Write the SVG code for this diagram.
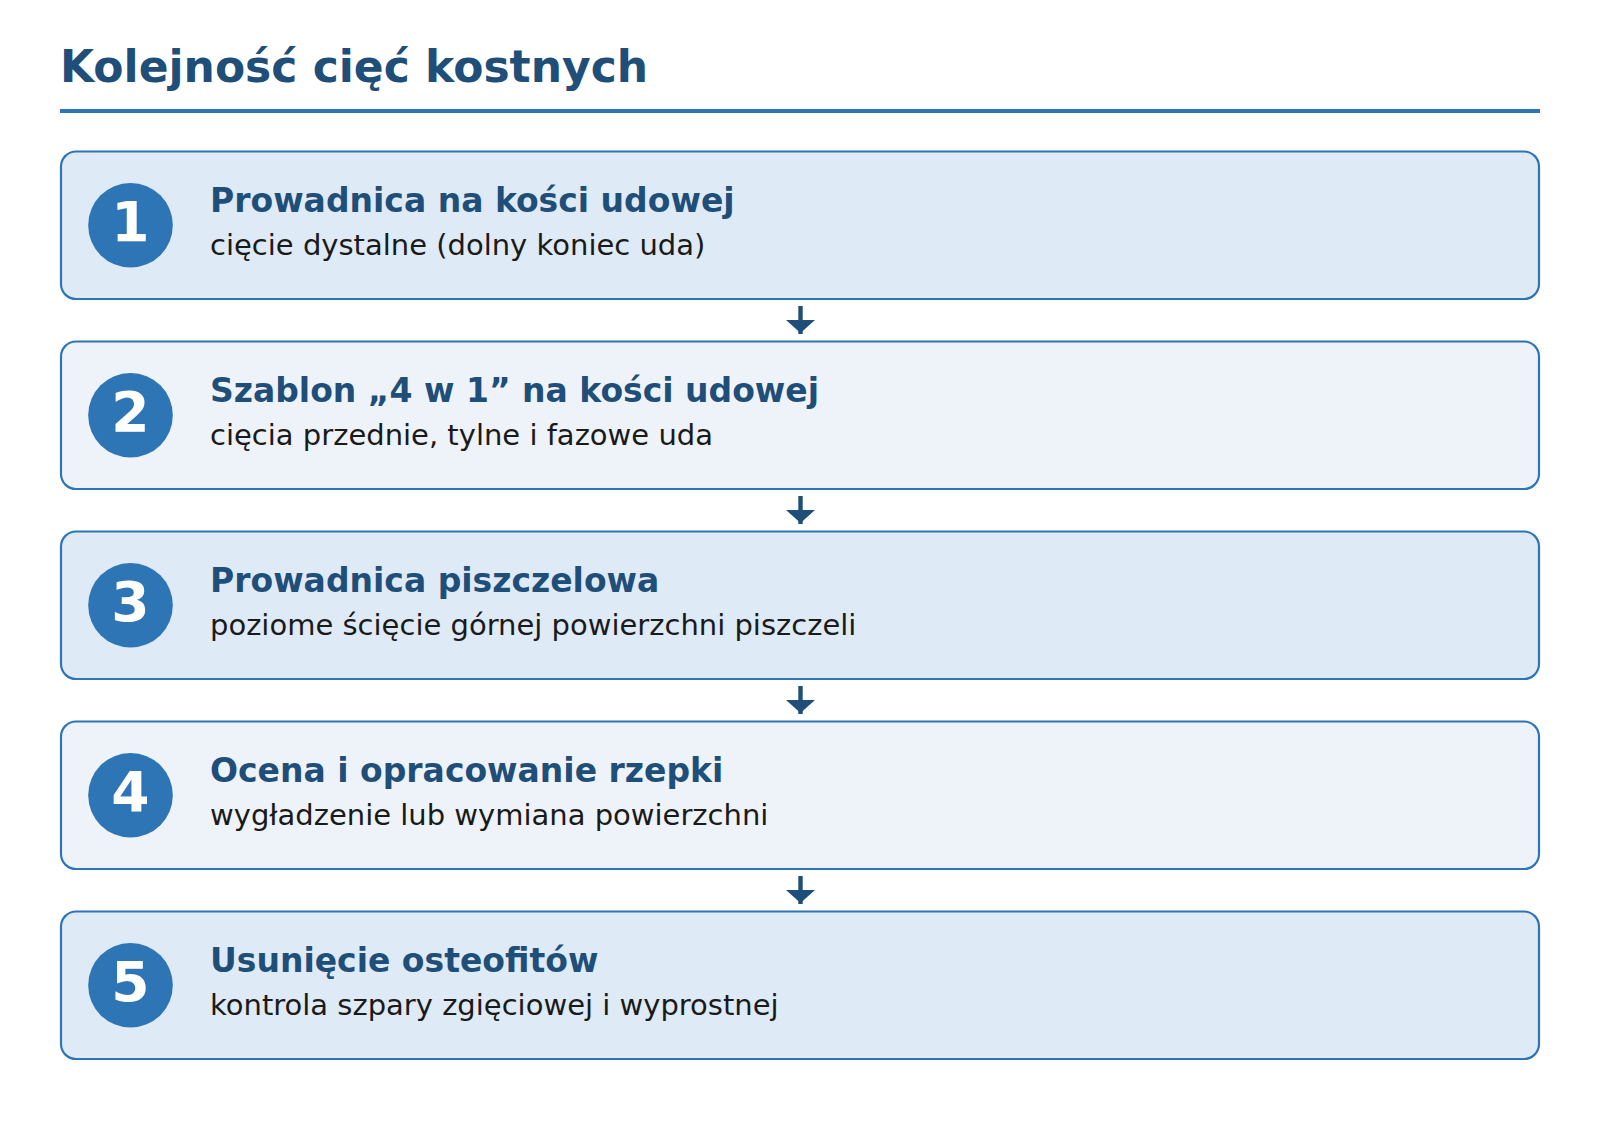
<svg xmlns="http://www.w3.org/2000/svg" width="1600" height="1140" viewBox="0 0 1600 1140">
<defs>
<style>
.bg{fill:#ffffff}
.title{font-family:"DejaVu Sans",sans-serif;font-weight:bold;font-size:44px;fill:#1f4e79}
.rule{stroke:#2e75b6;stroke-width:4}
.box{stroke:#2e75b6;stroke-width:2.2}
.odd{fill:#deeaf6}
.even{fill:#eef3f9}
.circ{fill:#2e75b6}
.num{font-family:"DejaVu Sans",sans-serif;font-weight:bold;font-size:55px;fill:#ffffff;text-anchor:middle}
.h{font-family:"DejaVu Sans",sans-serif;font-weight:bold;font-size:33px;fill:#1f4e79}
.s{font-family:"DejaVu Sans",sans-serif;font-size:29px;fill:#1a1a1a}
.conn{stroke:#1f4e79;stroke-width:4.4;fill:none}
.head{fill:#1f4e79}
</style>
</defs>
<rect class="bg" x="0" y="0" width="1600" height="1140"/>
<text class="title" x="60" y="81.5">Kolejność cięć kostnych</text>
<line class="rule" x1="60" y1="111" x2="1540" y2="111"/>

<g id="step1">
<rect class="box odd" x="61" y="151.5" width="1478" height="147.5" rx="15"/>
<circle class="circ" cx="130.5" cy="225.25" r="42.3"/>
<text class="num" x="130.5" y="241.3">1</text>
<text class="h" x="210" y="212.3">Prowadnica na kości udowej</text>
<text class="s" x="210" y="255.1">cięcie dystalne (dolny koniec uda)</text>
</g>
<g id="step2">
<rect class="box even" x="61" y="341.5" width="1478" height="147.5" rx="15"/>
<circle class="circ" cx="130.5" cy="415.25" r="42.3"/>
<text class="num" x="130.5" y="431.3">2</text>
<text class="h" x="210" y="402.3">Szablon „4 w 1” na kości udowej</text>
<text class="s" x="210" y="445.1">cięcia przednie, tylne i fazowe uda</text>
</g>
<g id="step3">
<rect class="box odd" x="61" y="531.5" width="1478" height="147.5" rx="15"/>
<circle class="circ" cx="130.5" cy="605.25" r="42.3"/>
<text class="num" x="130.5" y="621.3">3</text>
<text class="h" x="210" y="592.3">Prowadnica piszczelowa</text>
<text class="s" x="210" y="635.1">poziome ścięcie górnej powierzchni piszczeli</text>
</g>
<g id="step4">
<rect class="box even" x="61" y="721.5" width="1478" height="147.5" rx="15"/>
<circle class="circ" cx="130.5" cy="795.25" r="42.3"/>
<text class="num" x="130.5" y="811.3">4</text>
<text class="h" x="210" y="782.3">Ocena i opracowanie rzepki</text>
<text class="s" x="210" y="825.1">wygładzenie lub wymiana powierzchni</text>
</g>
<g id="step5">
<rect class="box odd" x="61" y="911.5" width="1478" height="147.5" rx="15"/>
<circle class="circ" cx="130.5" cy="985.25" r="42.3"/>
<text class="num" x="130.5" y="1001.3">5</text>
<text class="h" x="210" y="972.3">Usunięcie osteofitów</text>
<text class="s" x="210" y="1015.1">kontrola szpary zgięciowej i wyprostnej</text>
</g>

<g id="connectors">
<line class="conn" x1="800.5" y1="306" x2="800.5" y2="334"/>
<path class="head" d="M786,320 L815,320 L800.5,333 Z"/>
<line class="conn" x1="800.5" y1="496" x2="800.5" y2="524"/>
<path class="head" d="M786,510 L815,510 L800.5,523 Z"/>
<line class="conn" x1="800.5" y1="686" x2="800.5" y2="714"/>
<path class="head" d="M786,700 L815,700 L800.5,713 Z"/>
<line class="conn" x1="800.5" y1="876" x2="800.5" y2="904"/>
<path class="head" d="M786,890 L815,890 L800.5,903 Z"/>
</g>
</svg>
